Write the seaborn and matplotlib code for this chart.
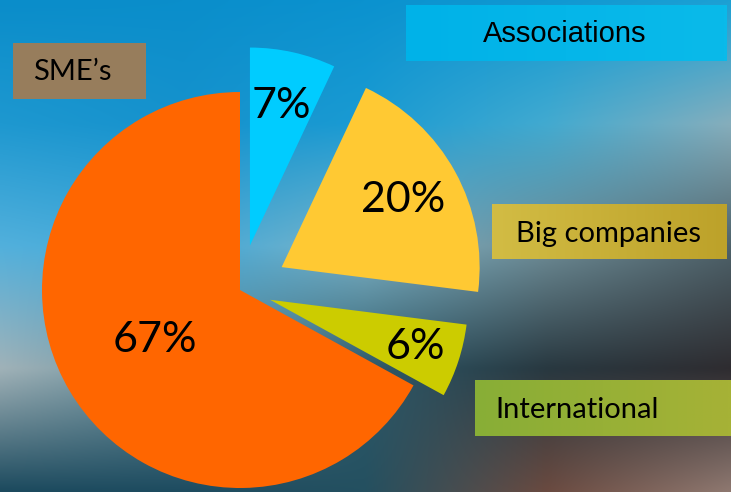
import numpy as np
import matplotlib
matplotlib.use("Agg")
import matplotlib.pyplot as plt
import matplotlib.colors as mcolors
import seaborn as sns

# ---- data ----
categories = ["SME’s", "International", "Big companies", "Associations"]
shares = [67, 6, 20, 7]
pct_labels = ["67%", "6%", "20%", "7%"]

sns.set_theme(style="white")
plt.rcParams['font.family'] = ['Lato', 'DejaVu Sans']

slice_colors = sns.color_palette(["#FF6600", "#CCCC00", "#FFC933", "#00CCFF"])

W, H = 731, 492
fig = plt.figure(figsize=(W / 100, H / 100), dpi=100)

# ---- background (blurred photo look) ----
bg = fig.add_axes([0, 0, 1, 1], zorder=0)
bg_x = [0, 183, 365, 548, 731]
bg_y = [0, 123, 246, 369, 492]
bg_hex = [
    ["#0A8DCA", "#0A8ECB", "#0B92CF", "#1098D2", "#1CA0D4"],
    ["#1E98D0", "#1692CD", "#1A9BD3", "#42AAD0", "#86AEBC"],
    ["#52B0DC", "#40A8D8", "#7EB4C8", "#6E8C96", "#4E626A"],
    ["#A0B2B8", "#6A909C", "#2E5A6A", "#283840", "#2E2C30"],
    ["#1C4A5E", "#1E4C60", "#245060", "#6A4A40", "#8E7870"],
]
grid = np.array([[mcolors.to_rgb(c) for c in row] for row in bg_hex])
xs = np.linspace(0, W, 300)
ys = np.linspace(0, H, 200)
tmp = np.stack([np.stack([np.interp(xs, bg_x, grid[r, :, k]) for k in range(3)], -1)
                for r in range(len(bg_y))])
img = np.stack([np.stack([np.interp(ys, bg_y, tmp[:, i, k]) for k in range(3)], -1)
                for i in range(len(xs))], 1)
bg.imshow(img, extent=[0, W, 0, H], origin='upper', interpolation='bicubic', aspect='auto')


def gradient_box(x0, y0, x1, y1, c_left, c_right):
    a = np.array(mcolors.to_rgb(c_left))
    b = np.array(mcolors.to_rgb(c_right))
    t = np.linspace(0, 1, 50)[None, :, None]
    g = a * (1 - t) + b * t
    bg.imshow(g, extent=[x0, x1, H - y1, H - y0], origin='upper',
              interpolation='bilinear', aspect='auto', zorder=2)


# label boxes
gradient_box(406, 5, 727, 61, "#00B2E8", "#0ABAEA")
bg.text(565, H - 34, "Associations", family=['Liberation Sans', 'DejaVu Sans'],
        fontsize=21, ha='center', va='center', color='black', zorder=3)

gradient_box(13, 43, 146, 99, "#977D5C", "#987E5D")
bg.text(33, H - 72, "SME’s", fontsize=21, ha='left', va='center', color='black', zorder=3)

gradient_box(492, 204, 727, 259, "#D2BC44", "#BDA22A")
bg.text(516, H - 234, "Big companies", fontsize=21, ha='left', va='center', color='black', zorder=3)

gradient_box(475, 380, 731, 436, "#88AE36", "#A6B236")
bg.text(495, H - 410, "International", fontsize=21, ha='left', va='center', color='black', zorder=3)

bg.set_xlim(0, W)
bg.set_ylim(0, H)
bg.axis('off')

# ---- pie ----
cx, cy, R = 240, 290, 198   # pixel centre and radius
pa = fig.add_axes([0, 0, 1, 1], zorder=1)
pa.patch.set_alpha(0)
wedges, _ = pa.pie(shares, colors=slice_colors, startangle=90, counterclock=True,
                   explode=[0, 0.16, 0.24, 0.23],
                   wedgeprops=dict(linewidth=0))
dists = [0.5, 0.77, 0.7, 0.72]
for w, lab, d in zip(wedges, pct_labels, dists):
    th = np.deg2rad((w.theta1 + w.theta2) / 2)
    wx, wy = w.center
    pa.text(wx + d * w.r * np.cos(th), wy + d * w.r * np.sin(th), lab,
            ha='center', va='center', fontsize=31, color='black')
pa.set_xlim(-cx / R, (W - cx) / R)
pa.set_ylim(-(H - cy) / R, cy / R)
pa.set_aspect('auto')
pa.axis('off')

fig.savefig("out.png", dpi=100)
